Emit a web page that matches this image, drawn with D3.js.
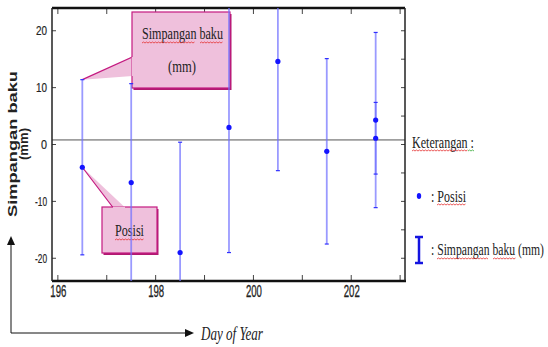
<html>
<head>
<meta charset="utf-8">
<script src="https://cdn.jsdelivr.net/npm/d3@7"></script>
<style>
	body { margin: 0; background: #fff; }
	svg { display: block; }
	.tick text { font-family: "Liberation Sans", Arial, sans-serif; fill: #222; }
</style>
</head>
<body>
<div id="chart"></div>
<script>
	var width = 548, height = 347;
	// day of year (x), posisi (mm) and simpangan baku (mm, half length of the bar)
	var days = [196.5, 197.5, 198.5, 199.5, 200.5, 201.5, 202.5, 202.5];
	var posisi = [-4.0, -6.7, -19.0, 3.0, 14.6, -1.2, 4.3, 1.1];
	var simpangan = [15.4, 17.4, 19.4, 22.0, 19.2, 16.3, 15.4, 6.3];
	var xTicks = [196, 198, 200, 202];
	var yTicks = [-20, -10, 0, 10, 20];
	var refValue = 0.8;

	var plot = {left: 52, right: 405, top: 8, bottom: 281};
	var serifFont = "'Liberation Serif', 'DejaVu Serif', serif";

	var x = d3.scaleLinear().domain([195.88, 203.1]).range([plot.left, plot.right]);
	var y = d3.scaleLinear().domain([-24, 24]).range([plot.bottom, plot.top]);

	var svg = d3.select("#chart").append("svg")
		.attr("width", width)
		.attr("height", height);

	svg.append("defs").append("clipPath").attr("id", "clip")
		.append("rect")
		.attr("x", plot.left).attr("y", plot.top)
		.attr("width", plot.right - plot.left).attr("height", plot.bottom - plot.top);

	// wavy spell check underline
	function squiggle(x0, x1, yy, color) {
		var p = "M" + x0 + "," + yy;
		var up = true;
		for (var xx = x0 + 1.5; xx <= x1; xx += 1.5) {
			p += "L" + xx + "," + (up ? yy - 1 : yy);
			up = !up;
		}
		svg.append("path").attr("d", p).attr("fill", "none")
			.attr("stroke", color || "#e53030").attr("stroke-width", 0.8);
	}

	// narrow serif text: squeeze horizontally to the wanted width
	function serifText(parent, tx, ty, size, len, str, italic) {
		var g = parent.append("g");
		var t = g.append("text")
			.attr("font-family", serifFont).attr("font-size", size).attr("fill", "#222")
			.attr("font-style", italic ? "italic" : null)
			.text(str);
		var w = t.node().getComputedTextLength();
		g.attr("transform", "translate(" + tx + "," + ty + ") scale(" + (len / w) + ",1)");
		return t;
	}

	// reference line
	svg.append("line")
		.attr("x1", plot.left).attr("x2", plot.right)
		.attr("y1", y(refValue)).attr("y2", y(refValue))
		.attr("stroke", "#555").attr("stroke-width", 1);

	// axes, ticks inside
	svg.append("g")
		.attr("transform", "translate(0," + plot.bottom + ")")
		.call(d3.axisBottom(x).tickValues(xTicks).tickSize(0).tickPadding(5).tickFormat(d3.format("d")))
		.call(function(g){ g.select(".domain").remove(); })
		.selectAll(".tick text")
		.attr("font-size", 16)
		.attr("stroke", "#222").attr("stroke-width", 0.3)
		.attr("textLength", 16).attr("lengthAdjust", "spacingAndGlyphs");
	svg.append("g")
		.attr("transform", "translate(" + plot.left + ",0)")
		.call(d3.axisLeft(y).tickValues(yTicks).tickSize(0).tickPadding(5).tickFormat(function(d){ return d < 0 ? "-" + (-d) : d; }))
		.call(function(g){ g.select(".domain").remove(); })
		.selectAll(".tick text")
		.attr("font-size", 13)
		.attr("stroke", "#222").attr("stroke-width", 0.2)
		.attr("textLength", function(d){ return d == 0 ? 6 : (d < 0 ? 12 : 11); })
		.attr("lengthAdjust", "spacingAndGlyphs");

	var minorX = d3.range(196, 204);
	var minorY = d3.range(-20, 25, 5);
	var tk = svg.append("g").attr("stroke", "#444").attr("stroke-width", 1);
	minorX.forEach(function(d){
		tk.append("line").attr("x1", x(d)).attr("x2", x(d)).attr("y1", plot.top).attr("y2", plot.top + 6);
		tk.append("line").attr("x1", x(d)).attr("x2", x(d)).attr("y1", plot.bottom).attr("y2", plot.bottom - 6);
	});
	minorY.forEach(function(d){
		tk.append("line").attr("x1", plot.right).attr("x2", plot.right - 4).attr("y1", y(d)).attr("y2", y(d));
	});
	yTicks.forEach(function(d){
		tk.append("line").attr("x1", plot.left).attr("x2", plot.left + 4).attr("y1", y(d)).attr("y2", y(d));
	});

	// frame
	svg.append("line").attr("x1", plot.left).attr("x2", plot.right).attr("y1", plot.top).attr("y2", plot.top)
		.attr("stroke", "#111").attr("stroke-width", 2.5);
	svg.append("line").attr("x1", plot.left).attr("x2", plot.right + 1).attr("y1", plot.bottom).attr("y2", plot.bottom)
		.attr("stroke", "#111").attr("stroke-width", 2.5);
	svg.append("line").attr("x1", plot.left).attr("x2", plot.left).attr("y1", plot.top).attr("y2", plot.bottom)
		.attr("stroke", "#222").attr("stroke-width", 1.5);
	svg.append("line").attr("x1", plot.right).attr("x2", plot.right).attr("y1", plot.top).attr("y2", plot.bottom)
		.attr("stroke", "#222").attr("stroke-width", 1.5);

	// callouts
	var pink = "#efc0dc", mag = "#c41a80";
	function callout(bx, by, bw, bh, tail) {
		var g = svg.append("g");
		g.append("rect").attr("x", bx + 1.5).attr("y", by + 2).attr("width", bw).attr("height", bh)
			.attr("fill", "#b01a70");
		g.append("path").attr("d", d3.line()(tail)).attr("fill", pink).attr("stroke", mag).attr("stroke-width", 1.2);
		g.append("rect").attr("x", bx).attr("y", by).attr("width", bw).attr("height", bh)
			.attr("fill", pink).attr("stroke", mag).attr("stroke-width", 1.2);
		var b = tail.slice(1);
		g.append("line").attr("x1", b[0][0]).attr("y1", b[0][1]).attr("x2", b[1][0]).attr("y2", b[1][1])
			.attr("stroke", pink).attr("stroke-width", 1.6);
		return g;
	}

	var p0 = [x(days[0]), y(posisi[0] + simpangan[0])];
	var c1 = callout(132, 12, 98, 76, [p0, [132.5, 57], [132.5, 76]]);
	serifText(c1, 142, 39, 17, 81, "Simpangan baku");
	serifText(c1, 168, 72, 17, 28, "(mm)");
	squiggle(142, 195, 43);
	squiggle(200, 223, 43);

	var p1 = [x(days[0]), y(posisi[0])];
	var c2 = callout(102, 207, 55, 46, [p1, [113, 207.5], [125, 207.5]]);
	serifText(c2, 115, 236, 17, 29, "Posisi");
	squiggle(115, 144, 240);

	// error bars
	var bars = svg.append("g").attr("clip-path", "url(#clip)");
	days.forEach(function(d, i){
		var lo = posisi[i] - simpangan[i], hi = posisi[i] + simpangan[i];
		bars.append("line").attr("x1", x(d)).attr("x2", x(d)).attr("y1", y(lo)).attr("y2", y(hi))
			.attr("stroke", "#6f6fff").attr("stroke-opacity", 0.7).attr("stroke-width", 1.8);
		[lo, hi].forEach(function(v){
			bars.append("line").attr("x1", x(d) - 2).attr("x2", x(d) + 2).attr("y1", y(v)).attr("y2", y(v))
				.attr("stroke", "#3030ff").attr("stroke-width", 1.2);
		});
	});
	bars.selectAll("circle").data(days).enter().append("circle")
		.attr("cx", function(d){ return x(d); })
		.attr("cy", function(d, i){ return y(posisi[i]); })
		.attr("r", 2.6)
		.attr("fill", "#1414ff");

	// legend
	serifText(svg, 412, 148, 17, 62, "Keterangan :");
	squiggle(412, 468, 151);
	squiggle(468, 474, 151, "#3a3");
	svg.append("ellipse").attr("cx", 419).attr("cy", 196).attr("rx", 2.2).attr("ry", 3).attr("fill", "#1414ff");
	serifText(svg, 431, 202, 17, 35, ": Posisi");
	squiggle(437, 466, 205);
	var lg = svg.append("g").attr("stroke", "#1414e0");
	lg.append("line").attr("x1", 419).attr("x2", 419).attr("y1", 237).attr("y2", 263).attr("stroke-width", 2.5);
	lg.append("line").attr("x1", 415).attr("x2", 423).attr("y1", 237).attr("y2", 237).attr("stroke-width", 2.5);
	lg.append("line").attr("x1", 415).attr("x2", 423).attr("y1", 263).attr("y2", 263).attr("stroke-width", 2.5);
	serifText(svg, 431, 255, 17, 113, ": Simpangan baku (mm)");
	squiggle(437, 489, 259);
	squiggle(493, 516, 259);

	// y title
	var yt = svg.append("g").attr("transform", "translate(17,144) rotate(-90)");
	yt.append("text").attr("text-anchor", "middle").attr("y", 0)
		.attr("font-family", "'Liberation Sans', Arial, sans-serif").attr("font-weight", "bold")
		.attr("font-size", 13).attr("textLength", 146).attr("lengthAdjust", "spacingAndGlyphs")
		.attr("fill", "#222")
		.text("Simpangan baku");
	yt.append("text").attr("text-anchor", "middle").attr("y", 11)
		.attr("font-family", "'Liberation Sans', Arial, sans-serif").attr("font-weight", "bold")
		.attr("font-size", 12).attr("textLength", 32).attr("lengthAdjust", "spacingAndGlyphs")
		.attr("fill", "#222")
		.text("(mm)");

	// arrows
	var ar = svg.append("g").attr("stroke", "#111").attr("stroke-width", 1);
	ar.append("line").attr("x1", 11).attr("x2", 11).attr("y1", 333).attr("y2", 242);
	ar.append("line").attr("x1", 11).attr("x2", 188).attr("y1", 333).attr("y2", 333);
	svg.append("path").attr("d", "M11,236 L7,245 L15,245 Z").attr("fill", "#111");
	svg.append("path").attr("d", "M194,333 L185,329 L185,337 Z").attr("fill", "#111");
	serifText(svg, 201, 340, 18, 62, "Day of Year", true);
</script>
</body>
</html>
